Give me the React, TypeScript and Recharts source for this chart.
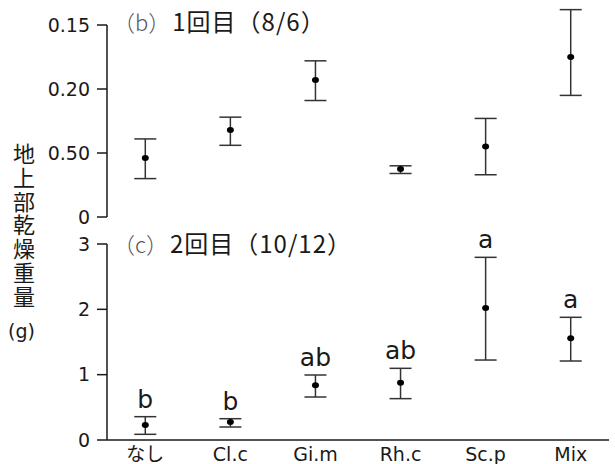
import React from 'react';
import { ComposedChart, Scatter, ErrorBar, XAxis, YAxis, ReferenceLine } from 'recharts';

const categories = ['なし', 'Cl.c', 'Gi.m', 'Rh.c', 'Sc.p', 'Mix'];

// (b) 1回目 (8/6)
const firstMean = [0.046, 0.068, 0.107, 0.0375, 0.055, 0.125];
const firstLow = [0.030, 0.056, 0.091, 0.034, 0.033, 0.095];
const firstHigh = [0.061, 0.078, 0.122, 0.040, 0.077, 0.162];
const firstTicks = [0, 0.05, 0.1, 0.15];
const firstTickLabels = ['0', '0.50', '0.20', '0.15'];

// (c) 2回目 (10/12)
const secondMean = [0.23, 0.276, 0.837, 0.877, 2.02, 1.556];
const secondLow = [0.087, 0.199, 0.658, 0.633, 1.224, 1.209];
const secondHigh = [0.357, 0.326, 0.995, 1.097, 2.796, 1.878];
const secondLetters = ['b', 'b', 'ab', 'ab', 'a', 'a'];
const secondTicks = [0, 1, 2, 3];

const xDomain: [number, number] = [-0.45, 5.45];
const catTicks = categories.map((_, i) => i);

const FONT = '"DejaVu Sans", "Noto Sans CJK JP", sans-serif';
const JP = '"Noto Sans CJK JP", "DejaVu Sans", sans-serif';
const INK = '#1a1a1a';

const buildRows = (mean: number[], low: number[], high: number[], letters?: string[]) =>
    categories.map((name, i) => ({
        pos: i,
        name,
        mean: mean[i],
        hi: high[i],
        err: [mean[i] - low[i], high[i] - mean[i]],
        letter: letters ? letters[i] : '',
    }));

const firstRows = buildRows(firstMean, firstLow, firstHigh);
const secondRows = buildRows(secondMean, secondLow, secondHigh, secondLetters);

const Dot = (p: any) => <ellipse cx={p.cx} cy={p.cy} rx={3.5} ry={3} fill="#000" />;

const Letter = (p: any) => (
    <text x={p.cx} y={p.cy - 9} textAnchor="middle" fontSize={25} fill={INK} fontFamily={FONT}>
        {p.payload.letter}
    </text>
);

const tickStyle = { fontSize: 19, fill: INK, fontFamily: FONT };

const Title = ({ top, tag, text }: { top: number; tag: string; text: string }) => (
    <div style={{ position: 'absolute', left: 113, top, whiteSpace: 'nowrap', fontFamily: JP, lineHeight: '28px' }}>
        <span style={{ fontSize: 22, color: '#555', fontWeight: 300 }}>{tag}</span>
        <span style={{ fontSize: 24, color: INK, marginLeft: 2, letterSpacing: 1 }}>{text}</span>
    </div>
);

export default function App() {
    return (
        <div style={{ position: 'relative', width: 615, height: 464, background: '#fff', overflow: 'hidden' }}>
            <style>{'body{margin:0}'}</style>

            <div style={{ position: 'absolute', left: 0, top: 0 }}>
                <ComposedChart width={615} height={240} data={firstRows} margin={{ top: 9, right: 6, bottom: 23, left: 0 }}>
                    <XAxis
                        type="number"
                        dataKey="pos"
                        domain={xDomain}
                        ticks={catTicks}
                        tick={false}
                        tickLine={false}
                        height={0}
                        axisLine={{ stroke: INK, strokeWidth: 1.5 }}
                    />
                    <YAxis
                        type="number"
                        width={107}
                        domain={[0, 0.1625]}
                        ticks={firstTicks}
                        tickFormatter={(v: number, i: number) => firstTickLabels[i]}
                        tick={tickStyle}
                        tickSize={10}
                        tickMargin={7}
                        tickLine={{ stroke: INK, strokeWidth: 1.5 }}
                        axisLine={false}
                    />
                    <ReferenceLine
                        segment={[{ x: xDomain[0], y: 0 }, { x: xDomain[0], y: 0.15 }]}
                        stroke={INK}
                        strokeWidth={1.5}
                        ifOverflow="visible"
                    />
                    <Scatter dataKey="mean" shape={Dot} isAnimationActive={false}>
                        <ErrorBar dataKey="err" direction="y" width={11} stroke="#333" strokeWidth={1.5} />
                    </Scatter>
                </ComposedChart>
            </div>

            <div style={{ position: 'absolute', left: 0, top: 220 }}>
                <ComposedChart width={615} height={244} data={secondRows} margin={{ top: 24, right: 6, bottom: 0, left: 0 }}>
                    <XAxis
                        type="number"
                        dataKey="pos"
                        domain={xDomain}
                        ticks={catTicks}
                        tickFormatter={(v: number) => categories[v]}
                        tick={tickStyle}
                        tickLine={false}
                        height={24}
                        axisLine={{ stroke: INK, strokeWidth: 1.5 }}
                    />
                    <YAxis
                        type="number"
                        width={107}
                        domain={[0, 3]}
                        ticks={secondTicks}
                        tick={tickStyle}
                        tickSize={10}
                        tickMargin={7}
                        tickLine={{ stroke: INK, strokeWidth: 1.5 }}
                        axisLine={{ stroke: INK, strokeWidth: 1.5 }}
                    />
                    <Scatter dataKey="mean" shape={Dot} isAnimationActive={false}>
                        <ErrorBar dataKey="err" direction="y" width={11} stroke="#333" strokeWidth={1.5} />
                    </Scatter>
                    <Scatter dataKey="hi" shape={Letter} isAnimationActive={false} />
                </ComposedChart>
            </div>

            <Title top={7} tag="（b）" text="1回目（8/6）" />
            <Title top={229} tag="（c）" text="2回目（10/12）" />

            <div
                style={{
                    position: 'absolute',
                    left: 12,
                    top: 141,
                    width: 24,
                    fontFamily: JP,
                    fontSize: 22,
                    lineHeight: '23.8px',
                    color: INK,
                    textAlign: 'center',
                    wordBreak: 'break-all',
                }}
            >
                地上部乾燥重量
            </div>
            <div style={{ position: 'absolute', left: 8, top: 320, fontFamily: FONT, fontSize: 19, color: INK }}>(g)</div>
        </div>
    );
}
